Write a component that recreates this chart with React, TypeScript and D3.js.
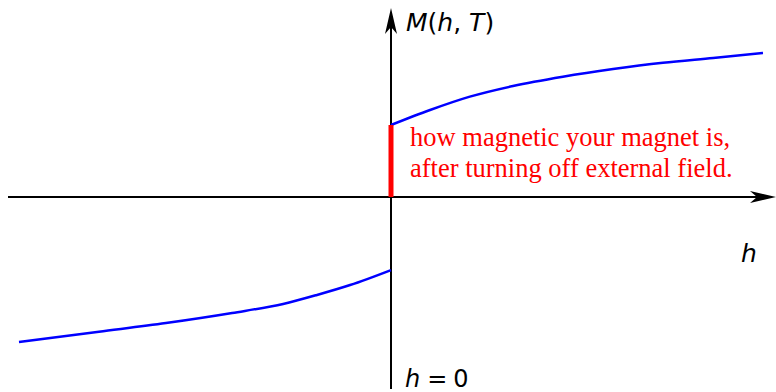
import React from "react";
import * as d3 from "d3";

// Magnetization M(h, T) below the critical temperature, sampled on each branch
const hRight = [0, 0.105, 0.212, 0.328, 0.462, 0.597, 0.731, 0.866, 1.0];
const mRight = [0.48, 0.58, 0.669, 0.74, 0.802, 0.853, 0.895, 0.927, 0.96];
const hLeft = [-1.0, -0.785, -0.605, -0.427, -0.29, -0.199, -0.11, 0];
const mLeft = [-0.967, -0.898, -0.84, -0.773, -0.713, -0.653, -0.587, -0.487];

// Remanent magnetization at h = 0
const remanence = 0.48;

const annotationLines = [
  "how magnetic your magnet is,",
  "after turning off external field.",
];

const W = 776;
const H = 392;

export default function App() {
  const x = d3.scaleLinear().domain([-1, 1]).range([19, 763]);
  const y = d3.scaleLinear().domain([-1, 1]).range([347, 47]);

  const x0 = x(0);
  const y0 = y(0);

  const line = d3
    .line<[number, number]>()
    .x((d) => x(d[0]))
    .y((d) => y(d[1]))
    .curve(d3.curveMonotoneX);

  const right: [number, number][] = hRight.map((h, i) => [h, mRight[i]]);
  const left: [number, number][] = hLeft.map((h, i) => [h, mLeft[i]]);

  // stealth-style arrow heads
  const arrowRight = (tx: number, ty: number) =>
    `M${tx},${ty} L${tx - 26},${ty - 6} L${tx - 19},${ty} L${tx - 26},${ty + 6} Z`;
  const arrowUp = (tx: number, ty: number) =>
    `M${tx},${ty} L${tx - 6},${ty + 26} L${tx},${ty + 19} L${tx + 6},${ty + 26} Z`;

  const mathFont = "'DejaVu Sans', sans-serif";

  return (
    <svg
      width={W}
      height={H}
      viewBox={`0 0 ${W} ${H}`}
      style={{ position: "absolute", left: 0, top: 0, background: "#fff" }}
    >
      {/* axes */}
      <line x1={8} x2={760} y1={y0} y2={y0} stroke="#000" strokeWidth={2} />
      <path d={arrowRight(776, y0)} fill="#000" />
      <line x1={x0} x2={x0} y1={389} y2={20} stroke="#000" strokeWidth={2} />
      <path d={arrowUp(x0, 8)} fill="#000" />

      {/* magnetization branches */}
      <path d={line(right) ?? ""} fill="none" stroke="#0000ff" strokeWidth={2.5} />
      <path d={line(left) ?? ""} fill="none" stroke="#0000ff" strokeWidth={2.5} />

      {/* remanence bar */}
      <line
        x1={x0}
        x2={x0}
        y1={y(remanence)}
        y2={y0}
        stroke="#ff0000"
        strokeWidth={5}
      />

      {/* labels */}
      <text x={406} y={31} fontFamily={mathFont} fontSize={25} fill="#000">
        <tspan fontStyle="italic">M</tspan>
        <tspan>(</tspan>
        <tspan fontStyle="italic">h</tspan>
        <tspan>, </tspan>
        <tspan fontStyle="italic">T</tspan>
        <tspan>)</tspan>
      </text>
      <text
        x={741}
        y={262}
        fontFamily={mathFont}
        fontSize={25}
        fontStyle="italic"
        fill="#000"
      >
        h
      </text>
      <text x={405} y={387} fontFamily={mathFont} fontSize={24} fill="#000">
        <tspan fontStyle="italic">h</tspan>
        <tspan dx={7}>=</tspan>
        <tspan dx={6}>0</tspan>
      </text>

      {annotationLines.map((t, i) => (
        <text
          key={i}
          x={410}
          y={146 + i * 31}
          fontFamily="'Liberation Serif', serif"
          fontSize={26.5}
          fill="#ff0000"
        >
          {t}
        </text>
      ))}
    </svg>
  );
}
